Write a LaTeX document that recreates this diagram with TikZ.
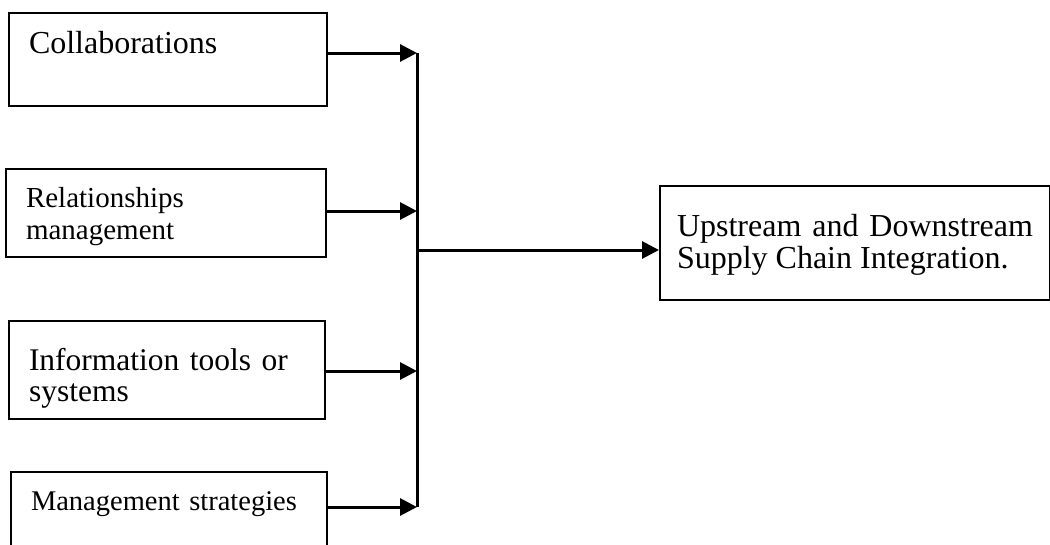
\documentclass[tikz,border=0pt]{standalone}
\usepackage{fontspec}
\setmainfont{Liberation Serif}
\usetikzlibrary{arrows.meta}
\tikzset{
factor/.style={
	  draw, line width=2pt, anchor=north west,
	    inner xsep=20pt, inner ysep=0pt, align=left},
outcome/.style={
	  draw, line width=2pt, anchor=north west,
	    inner xsep=17pt, inner ysep=0pt, align=justify},
feed/.style={
	  line width=3pt, -{Triangle[length=17pt,width=17pt]}}
}

\begin{document}
\begin{tikzpicture}[x=1pt, y=1pt]
	\useasboundingbox (0,0) rectangle (1050,-544);
	\node[factor, text width=278pt, text height=40pt, text depth=53pt,
		font=\fontsize{32}{31}\selectfont] (collab) at (8,-12) {Collaborations};
	\node[factor, text width=280pt, text height=38pt, text depth=50pt,
		font=\fontsize{29}{32}\selectfont] (relmgmt) at (5,-168) {Relationships\\ management};
	\node[factor, text width=276pt, text height=49pt, text depth=49pt,
		font=\fontsize{31.5}{31}\selectfont] (infotools) at (8,-320) {Information tools or\\ systems};
	\node[factor, text width=276pt, text height=38pt, text depth=42pt,
		font=\fontsize{28.5}{32}\selectfont] (mgmtstrat) at (10,-471) {Management strategies};
	\node[outcome, text width=356pt, text height=50pt, text depth=64pt,
		font=\fontsize{32}{32}\selectfont] (integration) at (659,-185)
		{Upstream and Downstream Supply Chain Integration.};
	\coordinate (j1) at (417,-53);
	\coordinate (j2) at (417,-211);
	\coordinate (j3) at (417,-371);
	\coordinate (j4) at (417,-507);
	\coordinate (jout) at (417,-250);
	\draw[line width=3pt] (j1) -- (j4);
	\draw[feed] (collab.east |- j1) -- (j1);
	\draw[feed] (relmgmt.east |- j2) -- (j2);
	\draw[feed] (infotools.east |- j3) -- (j3);
	\draw[feed] (mgmtstrat.east |- j4) -- (j4);
	\draw[feed] (jout) -- (jout -| integration.west);
\end{tikzpicture}
\end{document}
